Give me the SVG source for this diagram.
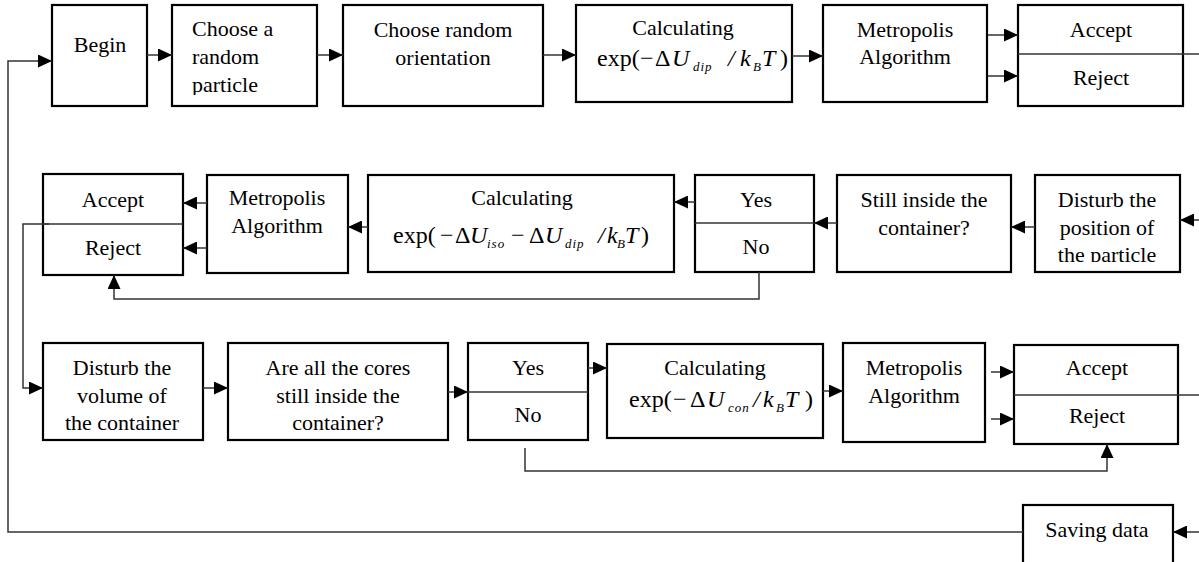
<svg xmlns="http://www.w3.org/2000/svg" width="1199" height="562" viewBox="0 0 1199 562">
<style>
.box{fill:#fff;stroke:#000;stroke-width:2.2}
.dv{stroke:#333;stroke-width:1.4}
.t{font-family:"Liberation Serif","Times New Roman",serif;font-size:22px;fill:#000;text-anchor:middle}
.tl{font-family:"Liberation Serif","Times New Roman",serif;font-size:22px;fill:#000}
.f{font-family:"Liberation Serif","Times New Roman",serif;font-size:24px;fill:#000}
.it{font-style:italic}
.sub{font-size:13px;font-style:italic;letter-spacing:1px}
.conn path{fill:none;stroke:#333;stroke-width:1.5}
</style>
<defs>
<marker id="ah" viewBox="0 0 14 13" refX="14" refY="6.5" markerWidth="14" markerHeight="13" markerUnits="userSpaceOnUse" orient="auto">
<path d="M0,0 L14,6.5 L0,13 z" fill="#000"/>
</marker>
<clipPath id="c1"><rect x="172" y="5" width="145" height="90"/></clipPath>
<clipPath id="c2"><rect x="1035" y="175" width="145" height="87"/></clipPath>
</defs>

<g id="begin"><rect class="box" x="52" y="5" width="95" height="101"/><text class="t" x="100" y="52">Begin</text></g>
<g id="choose-particle"><rect class="box" x="172" y="5" width="145" height="101"/>
<g clip-path="url(#c1)"><text class="tl" x="192" y="36">Choose a</text><text class="tl" x="192" y="64">random</text><text class="tl" x="192" y="92">particle</text></g></g>
<g id="choose-orientation"><rect class="box" x="343" y="5" width="200" height="101"/><text class="t" x="443" y="37">Choose random</text><text class="t" x="443" y="65">orientation</text></g>
<g id="calc1"><rect class="box" x="576" y="5" width="216" height="97"/><text class="t" x="683" y="35">Calculating</text>
<text class="f" y="66"><tspan x="597">exp(</tspan><tspan x="640">−</tspan><tspan x="655">Δ</tspan><tspan x="672" class="it">U</tspan><tspan x="693" y="71" class="sub">dip</tspan><tspan x="728" y="66" class="it">/</tspan><tspan x="740" class="it">k</tspan><tspan x="753" y="71" class="sub">B</tspan><tspan x="762" y="66" class="it">T</tspan><tspan x="780">)</tspan></text></g>
<g id="metro1"><rect class="box" x="823" y="5" width="164" height="97"/><text class="t" x="905" y="37">Metropolis</text><text class="t" x="905" y="64">Algorithm</text></g>
<g id="ar1"><rect class="box" x="1018" y="5" width="165" height="101"/><line class="dv" x1="1018" y1="54" x2="1183" y2="54"/><text class="t" x="1101" y="37">Accept</text><text class="t" x="1101" y="85">Reject</text></g>

<g id="ar2"><rect class="box" x="43" y="174" width="140" height="101"/><line class="dv" x1="43" y1="224" x2="183" y2="224"/><text class="t" x="113" y="207">Accept</text><text class="t" x="113" y="255">Reject</text></g>
<g id="metro2"><rect class="box" x="207" y="175" width="141" height="98"/><text class="t" x="277" y="205">Metropolis</text><text class="t" x="277" y="233">Algorithm</text></g>
<g id="calc2"><rect class="box" x="368" y="175" width="306" height="97"/><text class="t" x="522" y="205">Calculating</text>
<text class="f" y="243"><tspan x="393">exp(</tspan><tspan x="440">−</tspan><tspan x="455">Δ</tspan><tspan x="470" class="it">U</tspan><tspan x="487" y="248" class="sub">iso</tspan><tspan x="511" y="243">−</tspan><tspan x="529">Δ</tspan><tspan x="545" class="it">U</tspan><tspan x="565" y="248" class="sub">dip</tspan><tspan x="598" y="243" class="it">/</tspan><tspan x="607" class="it">k</tspan><tspan x="617" y="248" class="sub">B</tspan><tspan x="625" y="243" class="it">T</tspan><tspan x="641">)</tspan></text></g>
<g id="yn2"><rect class="box" x="695" y="175" width="119" height="97"/><line class="dv" x1="695" y1="223" x2="814" y2="223"/><text class="t" x="756" y="207">Yes</text><text class="t" x="756" y="254">No</text></g>
<g id="still"><rect class="box" x="837" y="175" width="174" height="97"/><text class="t" x="924" y="207">Still inside the</text><text class="t" x="924" y="235">container?</text></g>
<g id="disturb-pos"><rect class="box" x="1035" y="175" width="145" height="97"/>
<g clip-path="url(#c2)"><text class="t" x="1107" y="207">Disturb the</text><text class="t" x="1107" y="235">position of</text><text class="t" x="1107" y="262">the particle</text></g></g>

<g id="disturb-vol"><rect class="box" x="43" y="343" width="160" height="97"/><text class="t" x="122" y="375">Disturb the</text><text class="t" x="122" y="403">volume of</text><text class="t" x="122" y="430">the container</text></g>
<g id="are-all"><rect class="box" x="228" y="343" width="220" height="97"/><text class="t" x="338" y="375">Are all the cores</text><text class="t" x="338" y="403">still inside the</text><text class="t" x="338" y="430">container?</text></g>
<g id="yn3"><rect class="box" x="468" y="343" width="120" height="97"/><line class="dv" x1="468" y1="392" x2="588" y2="392"/><text class="t" x="528" y="375">Yes</text><text class="t" x="528" y="422">No</text></g>
<g id="calc3"><rect class="box" x="607" y="344" width="216" height="94"/><text class="t" x="715" y="375">Calculating</text>
<text class="f" y="407"><tspan x="629">exp(</tspan><tspan x="673">−</tspan><tspan x="690">Δ</tspan><tspan x="707" class="it">U</tspan><tspan x="728" y="412" class="sub">con</tspan><tspan x="753" y="407" class="it">/</tspan><tspan x="763" class="it">k</tspan><tspan x="776" y="412" class="sub">B</tspan><tspan x="785" y="407" class="it">T</tspan><tspan x="805">)</tspan></text></g>
<g id="metro3"><rect class="box" x="843" y="343" width="142" height="99"/><text class="t" x="914" y="375">Metropolis</text><text class="t" x="914" y="403">Algorithm</text></g>
<g id="ar3"><rect class="box" x="1014" y="345" width="164" height="99"/><line class="dv" x1="1014" y1="395" x2="1178" y2="395"/><text class="t" x="1097" y="375">Accept</text><text class="t" x="1097" y="423">Reject</text></g>

<g id="saving"><rect class="box" x="1023" y="505" width="150" height="80"/><text class="t" x="1097" y="537">Saving data</text></g>

<g class="conn" id="connectors">
<path d="M1023,532 H8 V61 H52" marker-end="url(#ah)"/>
<path d="M147,55 H172" marker-end="url(#ah)"/>
<path d="M317,55 H343" marker-end="url(#ah)"/>
<path d="M543,55 H576" marker-end="url(#ah)"/>
<path d="M792,56 H823" marker-end="url(#ah)"/>
<path d="M988,35 H1018" marker-end="url(#ah)"/>
<path d="M988,76 H1018" marker-end="url(#ah)"/>
<path d="M1183,54 H1199"/>
<path d="M1199,220 H1180" marker-end="url(#ah)"/>
<path d="M1035,227 H1011" marker-end="url(#ah)"/>
<path d="M837,223 H814" marker-end="url(#ah)"/>
<path d="M695,202 H674" marker-end="url(#ah)"/>
<path d="M368,227 H348" marker-end="url(#ah)"/>
<path d="M207,203 H183" marker-end="url(#ah)"/>
<path d="M207,248 H183" marker-end="url(#ah)"/>
<path d="M759,272 V299 H114 V275" marker-end="url(#ah)"/>
<path d="M49,224 H23 V388 H43" marker-end="url(#ah)"/>
<path d="M203,388 H228" marker-end="url(#ah)"/>
<path d="M448,392 H468" marker-end="url(#ah)"/>
<path d="M588,368 H607" marker-end="url(#ah)"/>
<path d="M823,391 H843" marker-end="url(#ah)"/>
<path d="M991,372 H1014" marker-end="url(#ah)"/>
<path d="M991,419 H1014" marker-end="url(#ah)"/>
<path d="M1178,395 H1199"/>
<path d="M525,448 V471 H1107 V444" marker-end="url(#ah)"/>
<path d="M1199,532 H1173" marker-end="url(#ah)"/>
</g>
</svg>
